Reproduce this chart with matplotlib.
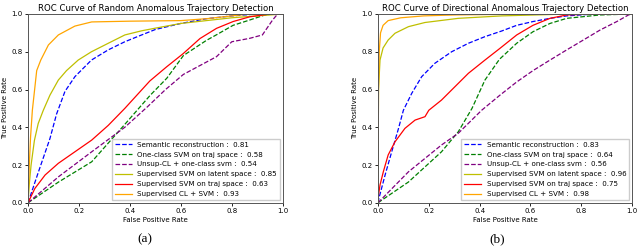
import matplotlib.pyplot as plt

# ---- Dados ----
NAMES = ['Semantic reconstruction', 'One-class SVM on traj space', 'Unsup-CL + one-class svm',
         'Supervised SVM on latent space', 'Supervised SVM on traj space', 'Supervised CL + SVM']
COLORS = ['blue', 'green', 'purple', 'y', 'red', 'orange']
STYLES = ['--', '--', '--', '-', '-', '-']

# (a) Random anomalous
AUC_A = [0.81, 0.58, 0.54, 0.85, 0.63, 0.93]
FPR_A = [
    [0, 0.01, 0.04, 0.086, 0.112, 0.145, 0.184, 0.249, 0.315, 0.38, 0.446, 0.5, 0.6, 0.7, 0.8, 0.9, 1.0],
    [0, 0.12, 0.25, 0.37, 0.48, 0.545, 0.61, 0.70, 0.74, 0.805, 0.87, 0.93, 0.96, 1.0],
    [0, 0.12, 0.25, 0.38, 0.47, 0.54, 0.61, 0.74, 0.80, 0.87, 0.92, 0.96, 0.98, 1.0],
    [0, 0.005, 0.012, 0.025, 0.04, 0.06, 0.086, 0.119, 0.151, 0.197, 0.249, 0.315, 0.38, 0.446, 0.5, 0.6, 0.8, 0.9, 1.0],
    [0, 0.027, 0.067, 0.119, 0.184, 0.25, 0.315, 0.38, 0.478, 0.544, 0.609, 0.675, 0.74, 0.805, 0.87, 0.95, 1.0],
    [0, 0.005, 0.01, 0.017, 0.034, 0.05, 0.08, 0.119, 0.184, 0.25, 0.4, 0.6, 0.7, 0.8, 0.87, 1.0],
]
TPR_A = [
    [0, 0.04, 0.16, 0.34, 0.47, 0.59, 0.668, 0.756, 0.81, 0.853, 0.889, 0.918, 0.95, 0.975, 0.99, 1.0, 1.0],
    [0, 0.11, 0.217, 0.40, 0.57, 0.66, 0.78, 0.86, 0.89, 0.94, 0.968, 0.995, 1.0, 1.0],
    [0, 0.138, 0.27, 0.40, 0.51, 0.60, 0.68, 0.774, 0.853, 0.871, 0.889, 0.968, 1.0, 1.0],
    [0, 0.1, 0.2, 0.33, 0.42, 0.49, 0.57, 0.65, 0.70, 0.756, 0.80, 0.845, 0.889, 0.911, 0.925, 0.95, 0.98, 0.99, 1.0],
    [0, 0.076, 0.147, 0.209, 0.27, 0.332, 0.41, 0.50, 0.645, 0.72, 0.79, 0.87, 0.924, 0.96, 0.985, 1.0, 1.0],
    [0, 0.2, 0.35, 0.49, 0.70, 0.756, 0.836, 0.889, 0.936, 0.958, 0.962, 0.965, 0.975, 0.99, 1.0, 1.0],
]

# (b) Directional anomalous
AUC_B = [0.83, 0.64, 0.56, 0.96, 0.75, 0.98]
FPR_B = [
    [0, 0.005, 0.028, 0.054, 0.08, 0.1, 0.133, 0.172, 0.224, 0.29, 0.356, 0.421, 0.487, 0.546, 0.61, 0.677, 0.743, 0.85, 1.0],
    [0, 0.12, 0.25, 0.316, 0.37, 0.421, 0.478, 0.546, 0.61, 0.677, 0.743, 0.874, 1.0],
    [0, 0.12, 0.25, 0.316, 0.408, 0.48, 0.546, 0.61, 0.677, 0.743, 0.808, 0.874, 0.94, 0.986, 1.0],
    [0, 0.001, 0.002, 0.008, 0.02, 0.04, 0.067, 0.12, 0.185, 0.316, 0.487, 0.7, 1.0],
    [0, 0.002, 0.008, 0.021, 0.04, 0.067, 0.106, 0.146, 0.185, 0.2, 0.25, 0.303, 0.356, 0.421, 0.48, 0.546, 0.61, 0.677, 0.743, 0.85, 1.0],
    [0, 0.001, 0.002, 0.005, 0.01, 0.02, 0.04, 0.09, 0.18, 0.3, 0.6, 1.0],
]
TPR_B = [
    [0, 0.03, 0.147, 0.27, 0.39, 0.49, 0.58, 0.668, 0.739, 0.80, 0.845, 0.88, 0.91, 0.94, 0.96, 0.977, 0.99, 1.0, 1.0],
    [0, 0.11, 0.27, 0.376, 0.50, 0.65, 0.76, 0.845, 0.906, 0.95, 0.977, 0.995, 1.0],
    [0, 0.164, 0.306, 0.368, 0.49, 0.57, 0.64, 0.70, 0.756, 0.81, 0.862, 0.915, 0.96, 0.995, 1.0],
    [0, 0.3, 0.6, 0.756, 0.82, 0.862, 0.898, 0.933, 0.955, 0.977, 0.99, 0.998, 1.0],
    [0, 0.04, 0.094, 0.164, 0.253, 0.323, 0.394, 0.438, 0.456, 0.49, 0.544, 0.615, 0.686, 0.756, 0.818, 0.889, 0.94, 0.977, 0.995, 1.0, 1.0],
    [0, 0.3, 0.6, 0.8, 0.9, 0.94, 0.965, 0.98, 0.99, 0.995, 1.0, 1.0],
]

TITLES = ['ROC Curve of Random Anomalous Trajectory Detection',
          'ROC Curve of Directional Anomalous Trajectory Detection']
CAPTIONS = ['(a)', '(b)']

fig = plt.figure(figsize=(6.4, 2.5), dpi=100)
ax_a = fig.add_axes([0.0438, 0.189, 0.398, 0.755])
ax_b = fig.add_axes([0.5906, 0.189, 0.397, 0.755])

paineis = [(ax_a, FPR_A, TPR_A, AUC_A), (ax_b, FPR_B, TPR_B, AUC_B)]
for i, (ax, fprs, tprs, aucs) in enumerate(paineis):
    for k in range(len(NAMES)):
        ax.plot(fprs[k], tprs[k], color=COLORS[k], linestyle=STYLES[k], lw=0.9,
                label=f'{NAMES[k]} :  {aucs[k]:.2f}')
    ax.set_xlim(0, 1)
    ax.set_ylim(0, 1)
    ax.set_xticks([0, 0.2, 0.4, 0.6, 0.8, 1.0])
    ax.set_yticks([0, 0.2, 0.4, 0.6, 0.8, 1.0])
    ax.tick_params(labelsize=5, length=2.5, width=0.6, pad=1.5)
    for s in ax.spines.values():
        s.set_color('#555555')
        s.set_linewidth(0.7)
    ax.set_title(TITLES[i], fontsize=6.1, pad=2.5)
    ax.set_xlabel('False Positive Rate', fontsize=5, labelpad=2)
    ax.set_ylabel('True Positive Rate', fontsize=5, labelpad=2)
    ax.legend(loc='lower right', fontsize=5.1, borderaxespad=0.4, handlelength=2.4,
              labelspacing=0.55, fancybox=False, framealpha=1, edgecolor='#cccccc')

fig.text(145 / 640, 1 - 239 / 250, CAPTIONS[0], fontsize=9.5, family='Liberation Serif',
         ha='center', va='center')
fig.text(497 / 640, 1 - 239 / 250, CAPTIONS[1], fontsize=9.5, family='Liberation Serif',
         ha='center', va='center')

plt.savefig('out.png', dpi=100)
